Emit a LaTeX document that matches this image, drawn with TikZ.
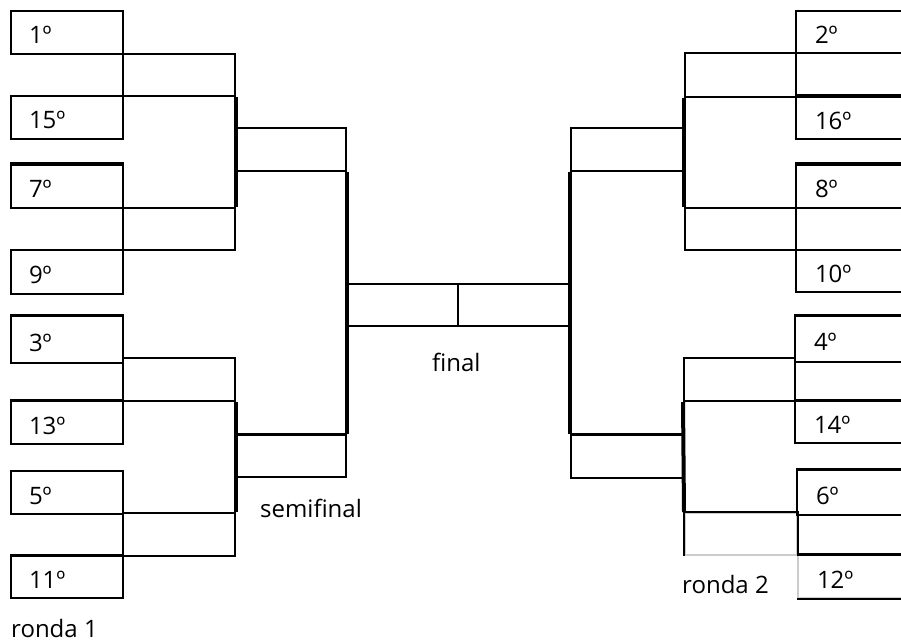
\documentclass[tikz,border=0pt]{standalone}
\usepackage{fontspec}
\newfontfamily\bracketfont{Open Sans}
\newcommand{\bracketsize}{\bracketfont\fontsize{24}{28}\selectfont}

\tikzset{
  thinline/.style={line width=2pt},
  heavyline/.style={line width=3pt},
  barline/.style={line width=4pt},
  slot/.style={draw, thinline, anchor=north west, inner sep=0pt},
  team/.style={slot, minimum height=43pt, inner xsep=18pt, text width=76pt,
    align=left, text height=23pt, text depth=0pt, font=\bracketsize},
  teamR/.style={team, inner xsep=19pt, text width=90pt},
  caption/.style={anchor=base west, inner sep=0pt, font=\bracketsize}
}

\begin{document}
\begin{tikzpicture}[x=1pt, y=-1pt]
    \useasboundingbox (0,0) rectangle (901,644);
    \clip (0,0) rectangle (901,644);

    % ronda 1, left side
    \node[team] (t1) at (10,10) {1º};
    \node[team] (t15) at (10,95) {15º};
    \node[team] (t7) at (10,164) {7º};
    \node[team, minimum height=44pt] (t9) at (10,249) {9º};
    \node[team, minimum height=47pt] (t3) at (10,315) {3º};
    \node[team] (t13) at (10,400) {13º};
    \node[team] (t5) at (10,470) {5º};
    \node[team, minimum height=42pt] (t11) at (10,555) {11º};

    % ronda 2, left side
    \node[slot, minimum width=112pt, minimum height=42pt] (w1) at (122,53) {};
    \node[slot, minimum width=112pt, minimum height=42pt] (w2) at (122,207) {};
    \node[slot, minimum width=112pt, minimum height=43pt] (w3) at (122,357) {};
    \node[slot, minimum width=112pt, minimum height=43pt] (w4) at (122,512) {};

    % semifinal
    \node[slot, minimum width=111pt, minimum height=43pt] (s1) at (234,127) {};
    \node[slot, minimum width=109pt, minimum height=42pt] (s2) at (236,434) {};
    \node[slot, minimum width=113pt, minimum height=43pt] (s3) at (570,127) {};
    \node[slot, minimum width=113pt, minimum height=43pt] (s4) at (570,434) {};

    % final
    \node[slot, minimum width=111pt, minimum height=42pt] (f1) at (346,283) {};
    \node[slot, minimum width=111pt, minimum height=42pt] (f2) at (457,283) {};

    % ronda 2, right side
    \node[slot, minimum width=111pt, minimum height=44pt] (w5) at (684,52) {};
    \node[slot, minimum width=111pt, minimum height=42pt] (w6) at (684,207) {};
    \node[slot, minimum width=111pt, minimum height=43pt] (w7) at (683,357) {};
    \node[slot, draw=black!20, minimum width=112pt, minimum height=42pt] (w8) at (684,512) {};
    \draw[thinline] (w8.south west) -- (w8.north west) -- (w8.north east) -- (w8.south east);

    % ronda 1, right side
    \node[teamR, minimum height=42pt] (t2) at (795,10) {2º};
    \node[teamR, minimum height=42pt] (t16) at (795,96) {16º};
    \node[teamR] (t8) at (795,164) {8º};
    \node[teamR, minimum height=42pt] (t10) at (795,249) {10º};
    \node[teamR, minimum height=46pt] (t4) at (794,315) {4º};
    \node[teamR, minimum height=42pt] (t14) at (794,400) {14º};
    \node[teamR, minimum height=45pt] (t6) at (796,469) {6º};
    \node[teamR, draw=black!20] (t12) at (797,554) {12º};
    \draw[thinline] (t12.south west) -- (t12.south east);

    % heavier top edges
    \foreach \n in {t7,t3,t13,t11,t16,t8,t4,t14,t6,t12,s2,s4}
        \draw[heavyline] (\n.north west) -- (\n.north east);

    % bars joining the pairs
    \draw[barline] (w1.south east) -- (w2.north east);
    \draw[barline] (w3.south east) -- (w4.north east);
    \draw[barline] (s1.south east) -- (s2.north east);
    \draw[barline] (s3.south west) -- (s4.north west);
    \draw[barline] (w5.south west) -- (w6.north west);
    \draw[barline] (w7.south west) -- (w8.north west);

    \node[caption] (final) at (432,371) {final};
    \node[caption] (semi) at (260,517) {semifinal};
    \node[caption] (ronda1) at (11,637) {ronda 1};
    \node[caption] (ronda2) at (682,593) {ronda 2};
\end{tikzpicture}
\end{document}
